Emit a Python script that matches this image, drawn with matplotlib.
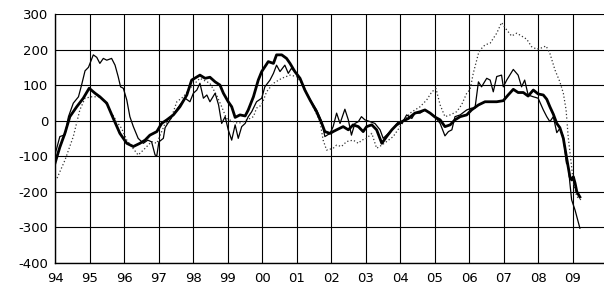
import matplotlib
matplotlib.use("Agg")
import matplotlib.pyplot as plt

plt.rcParams['font.family'] = ['DejaVu Sans']

year_ticks = list(range(1994, 2010))
tick_labels = ['94', '95', '96', '97', '98', '99', '00', '01', '02', '03',
               '04', '05', '06', '07', '08', '09']
y_ticks = [-400, -300, -200, -100, 0, 100, 200, 300]

# thick solid series
thick_x = [1994.00, 1994.14, 1994.29, 1994.43, 1994.63, 1994.82, 1994.99, 1995.16,
           1995.30, 1995.50, 1995.69, 1995.88, 1996.08, 1996.27, 1996.46, 1996.61,
           1996.75, 1996.95, 1997.09, 1997.24, 1997.43, 1997.62, 1997.82, 1997.96,
           1998.20, 1998.35, 1998.49, 1998.64, 1998.78, 1998.88, 1999.02, 1999.12,
           1999.22, 1999.36, 1999.51, 1999.60, 1999.75, 1999.89, 1999.99, 2000.18,
           2000.33, 2000.42, 2000.57, 2000.71, 2000.81, 2000.95, 2001.10, 2001.24,
           2001.39, 2001.58, 2001.73, 2001.82, 2001.97, 2002.06, 2002.16, 2002.35,
           2002.50, 2002.64, 2002.79, 2002.93, 2003.03, 2003.18, 2003.32, 2003.47,
           2003.61, 2003.76, 2003.90, 2004.05, 2004.24, 2004.43, 2004.58, 2004.72,
           2004.87, 2005.01, 2005.16, 2005.30, 2005.45, 2005.59, 2005.74, 2005.93,
           2006.07, 2006.27, 2006.46, 2006.61, 2006.80, 2006.99, 2007.13, 2007.28,
           2007.42, 2007.57, 2007.71, 2007.86, 2008.00, 2008.15, 2008.25, 2008.34,
           2008.44, 2008.54, 2008.63, 2008.73, 2008.82, 2008.92, 2008.97, 2009.02,
           2009.07, 2009.12, 2009.21]
thick_y = [-120, -75, -35, 11, 39, 63, 91, 77,
           67, 49, 6, -36, -64, -73, -64, -55,
           -41, -31, -8, 2, 16, 39, 72, 114,
           128, 119, 122, 109, 100, 77, 53, 39,
           9, 16, 13, 30, 67, 114, 138, 166,
           161, 185, 185, 175, 161, 138, 119, 86,
           58, 25, -8, -31, -36, -31, -26, -17,
           -26, -12, -17, -31, -17, -12, -26, -64,
           -45, -26, -12, -3, 6, 21, 25, 30,
           21, 10, 2, -17, -12, 2, 11, 16,
           30, 44, 53, 53, 53, 56, 72, 88,
           79, 79, 69, 86, 75, 72, 60, 39,
           18, -8, -20, -50, -102, -158, -167, -158,
           -176, -200, -215]

# thin solid series
thin_x = [1994.00, 1994.05, 1994.14, 1994.29, 1994.39, 1994.53, 1994.68, 1994.77,
          1994.87, 1994.97, 1995.11, 1995.21, 1995.30, 1995.40, 1995.50, 1995.64,
          1995.74, 1995.83, 1995.90, 1995.98, 1996.08, 1996.17, 1996.27, 1996.41,
          1996.56, 1996.69, 1996.80, 1996.90, 1996.95, 1997.01, 1997.14, 1997.19,
          1997.33, 1997.48, 1997.62, 1997.77, 1997.91, 1998.01, 1998.11, 1998.20,
          1998.30, 1998.40, 1998.49, 1998.64, 1998.74, 1998.83, 1998.93, 1999.02,
          1999.12, 1999.22, 1999.31, 1999.41, 1999.51, 1999.60, 1999.70, 1999.84,
          1999.99, 2000.08, 2000.23, 2000.33, 2000.42, 2000.52, 2000.66, 2000.76,
          2000.85, 2001.00, 2001.14, 2001.29, 2001.43, 2001.58, 2001.73, 2001.82,
          2001.97, 2002.06, 2002.16, 2002.26, 2002.40, 2002.50, 2002.59, 2002.69,
          2002.79, 2002.88, 2002.98, 2003.13, 2003.27, 2003.42, 2003.51, 2003.66,
          2003.80, 2003.95, 2004.05, 2004.19, 2004.34, 2004.43, 2004.58, 2004.72,
          2004.87, 2005.01, 2005.16, 2005.30, 2005.40, 2005.50, 2005.59, 2005.74,
          2005.93, 2006.07, 2006.17, 2006.27, 2006.36, 2006.51, 2006.61, 2006.70,
          2006.80, 2006.94, 2006.99, 2007.09, 2007.18, 2007.28, 2007.42, 2007.52,
          2007.61, 2007.71, 2007.86, 2008.00, 2008.15, 2008.25, 2008.34, 2008.44,
          2008.54, 2008.63, 2008.73, 2008.82, 2008.87, 2008.92, 2008.97, 2009.07,
          2009.21]
thin_y = [-95, -78, -45, -40, 11, 49, 67, 100,
          140, 150, 185, 178, 161, 175, 170, 175,
          156, 124, 95, 91, 58, 11, -17, -50,
          -64, -55, -60, -97, -99, -60, -50, -20,
          2, 25, 44, 63, 53, 77, 86, 105,
          63, 72, 53, 77, 44, -8, 11, -26,
          -55, -12, -50, -17, -8, 11, 25, 53,
          63, 95, 114, 133, 156, 138, 156, 133,
          147, 133, 109, 77, 53, 30, -3, -45,
          -36, -17, 21, -8, 32, 2, -41, -8,
          -3, 11, 2, -3, -8, -26, -50, -36,
          -22, -3, -8, 16, 6, 21, 21, 30,
          21, 11, -8, -43, -31, -26, 11, 16,
          30, 35, 35, 109, 95, 119, 114, 81,
          124, 128, 95, 114, 128, 144, 128, 95,
          114, 72, 67, 63, 30, 11, -3, 11,
          -34, -22, -45, -120, -125, -176, -223, -252,
          -303]

# dotted series
dot_x = [1994.06, 1994.29, 1994.53, 1994.72, 1994.87, 1995.06, 1995.30, 1995.45,
         1995.64, 1995.79, 1995.93, 1996.08, 1996.22, 1996.41, 1996.61, 1996.80,
         1996.95, 1997.19, 1997.33, 1997.53, 1997.72, 1997.91, 1998.20, 1998.49,
         1998.68, 1998.83, 1998.97, 1999.17, 1999.31, 1999.46, 1999.75, 1999.84,
         1999.99, 2000.13, 2000.33, 2000.57, 2000.81, 2001.00, 2001.19, 2001.34,
         2001.48, 2001.68, 2001.77, 2001.87, 2002.06, 2002.16, 2002.30, 2002.45,
         2002.64, 2002.79, 2002.89, 2003.03, 2003.18, 2003.32, 2003.47, 2003.61,
         2003.80, 2004.00, 2004.14, 2004.29, 2004.43, 2004.58, 2004.77, 2004.92,
         2005.04, 2005.16, 2005.30, 2005.45, 2005.64, 2005.78, 2005.93, 2006.03,
         2006.12, 2006.27, 2006.32, 2006.46, 2006.61, 2006.80, 2006.94, 2007.09,
         2007.23, 2007.38, 2007.52, 2007.67, 2007.81, 2007.96, 2008.08, 2008.23,
         2008.34, 2008.49, 2008.63, 2008.73, 2008.81, 2008.87, 2008.97, 2009.02,
         2009.12, 2009.24]
dot_y = [-162, -111, -45, 30, 63, 67, 67, 53,
         21, -3, -22, -55, -73, -97, -78, -59,
         -64, -8, -3, 53, 67, 91, 119, 105,
         72, 39, 6, -3, -8, -3, 11, 35,
         44, 81, 105, 119, 128, 124, 100, 67,
         39, -3, -55, -83, -78, -69, -73, -59,
         -55, -64, -55, -50, -36, -78, -69, -59,
         -45, -17, 2, 21, 30, 39, 58, 81,
         90, 44, 11, 16, 25, 44, 77, 88,
         133, 189, 199, 213, 218, 246, 276, 255,
         238, 246, 238, 229, 208, 201, 204, 210,
         189, 142, 109, 77, 30, -45, -130, -176,
         -214, -223]

fig = plt.figure(figsize=(6.04, 2.89), dpi=100)
ax = fig.add_axes([55 / 604, (289 - 262.7) / 289, 1 - 55 / 604, (262.7 - 14) / 289])

ax.plot(dot_x, dot_y, color='#333333', lw=0.9, linestyle=(0, (1, 1.8)), zorder=3)
ax.plot(thin_x, thin_y, color='black', lw=0.9, zorder=4)
ax.plot(thick_x, thick_y, color='black', lw=2.0, zorder=5, solid_joinstyle='round')

ax.set_xlim(1994, 1994 + (604 - 55) / 34.51)
ax.set_ylim(-400, 300)
ax.set_xticks(year_ticks)
ax.set_xticklabels(tick_labels)
ax.set_yticks(y_ticks)
ax.set_yticklabels([str(v) for v in y_ticks])
ax.grid(True, color='black', lw=0.8)
ax.set_axisbelow(True)
ax.tick_params(axis='both', length=0, labelsize=9.5, colors='black')
ax.tick_params(axis='x', pad=7)
ax.tick_params(axis='y', pad=5)
for s in ['top', 'right']:
    ax.spines[s].set_visible(False)
for s in ['left', 'bottom']:
    ax.spines[s].set_color('black')
    ax.spines[s].set_linewidth(1.0)

fig.savefig('out.png', dpi=100)
